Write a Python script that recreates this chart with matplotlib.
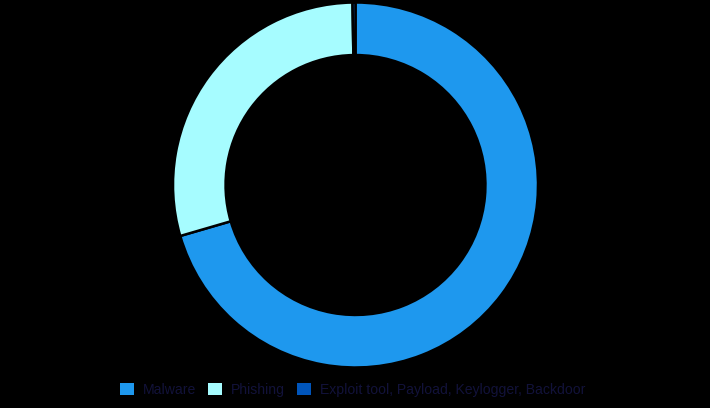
import matplotlib
matplotlib.use("Agg")
import matplotlib.pyplot as plt
from matplotlib.patches import Rectangle

categories = ["Malware", "Phishing", "Exploit tool, Payload, Keylogger, Backdoor"]
values = [270, 112, 1]
colors = ["#1E98EE", "#A6FCFF", "#0055BB"]

plt.rcParams['font.family'] = ['Liberation Sans', 'DejaVu Sans']

fig = plt.figure(figsize=(7.10, 4.08), dpi=100)
fig.patch.set_facecolor("black")

W, H = 710, 408
cx, cy, r = 355.5, 185.0, 182.5
ax = fig.add_axes([(cx - r) / W, (H - cy - r) / H, 2 * r / W, 2 * r / H])
ax.set_facecolor("black")
ax.pie(values, colors=colors, startangle=90, counterclock=False, radius=1.0,
       wedgeprops=dict(width=0.288, edgecolor="black", linewidth=1.8))
ax.set_xlim(-1, 1)
ax.set_ylim(-1, 1)
ax.set_aspect("equal")
ax.axis("off")

handles = [Rectangle((0, 0), 1, 1, facecolor=c, edgecolor="none") for c in colors]
leg = fig.legend(handles, categories, loc="center", bbox_to_anchor=(352.5 / W, 1 - 390 / H),
                 ncol=3, frameon=False, fontsize=10.1, handlelength=1.0, handleheight=0.9,
                 handletextpad=0.65, columnspacing=0.85, labelcolor="#12123A")

fig.savefig("out.png", dpi=100, facecolor=fig.get_facecolor())
